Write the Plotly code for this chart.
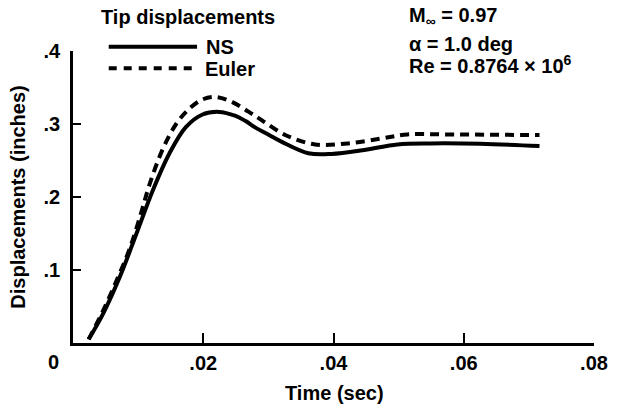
import plotly.graph_objects as go

# ---- data ----
ns_time = [0.0024, 0.00467, 0.00721, 0.00975, 0.01228, 0.01482, 0.01736, 0.01989,
           0.02243, 0.02497, 0.0265, 0.02802, 0.03004, 0.03207, 0.03613, 0.03967,
           0.04476, 0.04982, 0.05489, 0.0625, 0.07163]
ns_disp = [0.005, 0.041, 0.091, 0.150, 0.2096, 0.260, 0.296, 0.313,
           0.3166, 0.311, 0.304, 0.295, 0.2852, 0.2755, 0.260, 0.259,
           0.2645, 0.272, 0.2734, 0.2729, 0.2697]

euler_time = [0.0024, 0.0045, 0.00671, 0.00874, 0.01052, 0.01178, 0.0138, 0.01584,
              0.01787, 0.01989, 0.02193, 0.02446, 0.027, 0.02902, 0.03258, 0.03715,
              0.04222, 0.04728, 0.05135, 0.05744, 0.07163]
euler_disp = [0.005, 0.042, 0.086, 0.130, 0.180, 0.218, 0.266, 0.300,
              0.321, 0.3336, 0.337, 0.330, 0.3166, 0.305, 0.285, 0.272,
              0.2734, 0.280, 0.2857, 0.2857, 0.2848]

x_tickvals = [0.02, 0.04, 0.06, 0.08]
x_ticktext = [".02", ".04", ".06", ".08"]
y_tickvals = [0.1, 0.2, 0.3, 0.4]
y_ticktext = [".1", ".2", ".3", ".4"]

W, H = 620, 412
ML, MR, MT, MB = 73, 22, 51, 69
PW, PH = W - ML - MR, H - MT - MB

FONT = "Liberation Sans, Arial, Helvetica, sans-serif"


def px(xp):
    return (xp - ML) / PW


def py(yp):
    return (H - MB - yp) / PH


fig = go.Figure()
fig.add_trace(go.Scatter(x=ns_time, y=ns_disp, mode="lines", name="NS",
                         line=dict(color="black", width=4, shape="spline"),
                         showlegend=False))
fig.add_trace(go.Scatter(x=euler_time, y=euler_disp, mode="lines", name="Euler",
                         line=dict(color="black", width=4, shape="spline", dash="9px,6px"),
                         showlegend=False))

# legend samples (drawn manually)
fig.add_shape(type="line", xref="paper", yref="paper", x0=px(109), x1=px(198),
              y0=py(46.7), y1=py(46.7), line=dict(color="black", width=4))
fig.add_shape(type="line", xref="paper", yref="paper", x0=px(109), x1=px(198),
              y0=py(68.3), y1=py(68.3), line=dict(color="black", width=4, dash="8px,7px"))


def txt(text, xp, yp, size=20, anchor="left"):
    fig.add_annotation(text=text, xref="paper", yref="paper", x=px(xp), y=py(yp),
                       xanchor=anchor, yanchor="middle", showarrow=False,
                       font=dict(family=FONT, size=size, color="black", weight="bold"))


txt("Tip displacements", 99, 17)
txt("NS", 205, 47)
txt("Euler", 204, 69)
txt("M<sub>∞</sub> = 0.97", 410, 16)
txt("α = 1.0 deg", 410, 44)
txt("Re = 0.8764 × 10<sup>6</sup>", 410, 65)
txt("0", 53, 362, anchor="center")
txt("Time (sec)", 337, 393, anchor="center")

fig.update_layout(
    width=W, height=H,
    margin=dict(l=ML, r=MR, t=MT, b=MB, pad=0),
    paper_bgcolor="white", plot_bgcolor="white",
    font=dict(family=FONT, size=20, color="black", weight="bold"),
    xaxis=dict(range=[0, 0.08], tickvals=x_tickvals, ticktext=x_ticktext,
               ticks="inside", ticklen=10, tickwidth=2, tickcolor="black",
               showline=True, linecolor="black", linewidth=2.5,
               showgrid=False, zeroline=False, ticklabeloverflow="allow",
               tickfont=dict(family=FONT, size=20, color="black", weight="bold")),
    yaxis=dict(range=[0, 0.4], tickvals=y_tickvals, ticktext=y_ticktext,
               ticks="inside", ticklen=8, tickwidth=2, tickcolor="black",
               showline=True, linecolor="black", linewidth=2.5,
               showgrid=False, zeroline=False, ticklabelstandoff=6,
               tickfont=dict(family=FONT, size=20, color="black", weight="bold"),
               title=dict(text="Displacements (inches)", standoff=13,
                          font=dict(family=FONT, size=20, color="black", weight="bold"))),
)

fig.write_html("out.html", config={"displayModeBar": False},
               post_script="document.body.style.margin='0';document.body.style.padding='0';")
